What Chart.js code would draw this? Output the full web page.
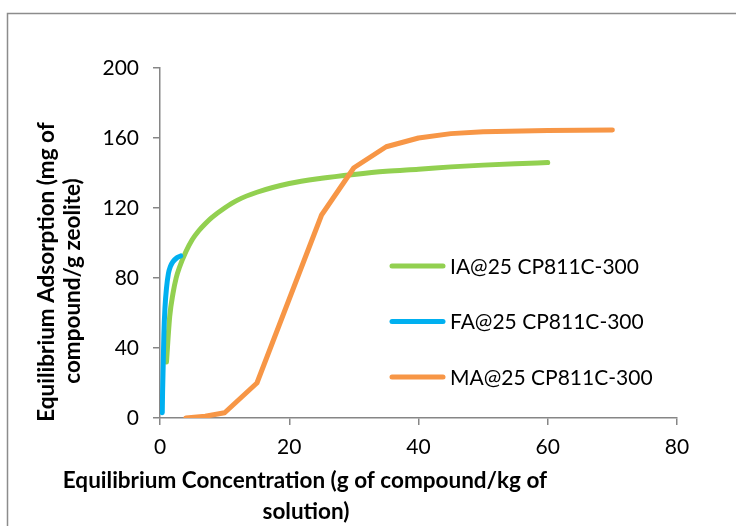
<!DOCTYPE html>
<html>
<head>
<meta charset="utf-8">
<script src="https://cdn.jsdelivr.net/npm/chart.js@4"></script>
<style>
  html, body { margin: 0; padding: 0; background: #fff; }
  #wrap { width: 736px; height: 526px; position: relative; }
</style>
</head>
<body>
<div id="wrap"><canvas id="isothermChart" width="736" height="526"></canvas></div>
<script>
// series (x = g/kg, y = mg/g)
const iaLabel = 'IA@25 CP811C-300';
const iaX = [1.0, 1.5, 2, 2.5, 3, 4, 5, 6, 7, 8, 10, 12, 15, 20, 25, 30, 35, 40, 45, 50, 55, 60];
const iaY = [32, 58, 71, 80, 86, 95, 102, 107, 111, 114.5, 120, 124.5, 129, 134, 137, 139.2, 141, 142.2, 143.5, 144.5, 145.3, 146];

const faLabel = 'FA@25 CP811C-300';
const faX = [0.35, 0.4, 0.5, 0.6, 0.77, 1.0, 1.3, 1.6, 2.0, 2.6, 3.2];
const faY = [3, 15, 31, 48, 63, 74, 82.5, 86.5, 89.3, 91.5, 92.6];

const maLabel = 'MA@25 CP811C-300';
const maX = [4, 7, 10, 15, 20, 25, 30, 35, 40, 45, 50, 60, 70];
const maY = [0, 1, 3, 20, 68, 116, 143, 155, 160, 162.5, 163.6, 164.3, 164.6];

const xTicks = [0, 20, 40, 60, 80];
const yTicks = [0, 40, 80, 120, 160, 200];

const xTitle = ['Equilibrium Concentration (g of compound/kg of', 'solution)'];
const yTitle = ['Equilibrium Adsorption (mg of', 'compound/g zeolite)'];

const toPoints = (xs, ys) => xs.map((x, i) => ({ x: x, y: ys[i] }));

Chart.defaults.font.family = 'Lato';
Chart.defaults.font.size = 21;
Chart.defaults.color = '#000';

const axisGray = '#868686';

// outer frame, titles and in-plot legend
const decorations = {
    id: 'decorations',
    beforeDraw(chart) {
        const ctx = chart.ctx;
        ctx.save();
        ctx.fillStyle = '#fff';
        ctx.fillRect(0, 0, chart.width, chart.height);
        ctx.strokeStyle = '#8c8c8c';
        ctx.lineWidth = 1.5;
        ctx.strokeRect(7.5, 13.5, 900, 700);
        ctx.restore();
    },
    afterDraw(chart) {
        const ctx = chart.ctx;
        ctx.save();
        ctx.fillStyle = '#000';
        ctx.font = 'bold 22.5px Lato';
        ctx.textAlign = 'center';
        ctx.textBaseline = 'middle';
        ctx.fillText(xTitle[0], 305, 481);
        ctx.fillText(xTitle[1], 306, 512);

        ctx.save();
        ctx.translate(47, 272);
        ctx.rotate(-Math.PI / 2);
        ctx.fillText(yTitle[0], 0, 0);
        ctx.restore();
        ctx.save();
        ctx.translate(73, 281);
        ctx.rotate(-Math.PI / 2);
        ctx.fillText(yTitle[1], 0, 0);
        ctx.restore();

        // legend
        ctx.font = '21px Lato';
        ctx.textAlign = 'left';
        ctx.lineCap = 'round';
        chart.data.datasets.forEach((ds, i) => {
            const y = 266 + i * 55.5;
            ctx.strokeStyle = ds.borderColor;
            ctx.lineWidth = 5;
            ctx.beginPath();
            ctx.moveTo(392, y);
            ctx.lineTo(443, y);
            ctx.stroke();
            ctx.fillText(ds.label, 450, y + 1);
        });
        ctx.restore();
    }
};

const ctx = document.getElementById('isothermChart').getContext('2d');
const isothermChart = new Chart(ctx, {
    type: 'line',
    data: {
        datasets: [
        {
            label: iaLabel,
            data: toPoints(iaX, iaY),
            borderColor: '#92D050',
            cubicInterpolationMode: 'monotone',
            order: 2
        },
        {
            label: faLabel,
            data: toPoints(faX, faY),
            borderColor: '#00B0F0',
            cubicInterpolationMode: 'monotone',
            order: 1
        },
        {
            label: maLabel,
            data: toPoints(maX, maY),
            borderColor: '#F79646',
            tension: 0,
            order: 0
        }
        ]
    },
    options: {
        responsive: false,
        animation: false,
        layout: {
            padding: { top: 68, right: 59, left: 0, bottom: 0 }
        },
        elements: {
            point: { radius: 0 },
            line: { borderWidth: 5, borderCapStyle: 'round', borderJoinStyle: 'round', fill: false }
        },
        scales: {
            x: {
                type: 'linear',
                min: 0,
                max: 80,
                afterBuildTicks: (scale) => { scale.ticks = xTicks.map(v => ({ value: v })); },
                afterFit: (scale) => { scale.height = 108; },
                grid: { display: true, drawOnChartArea: false, drawTicks: true, tickLength: 7, color: axisGray, lineWidth: 1.5 },
                border: { color: axisGray, width: 1.5 },
                ticks: { padding: 10, font: { size: 21 } }
            },
            y: {
                min: 0,
                max: 200,
                afterBuildTicks: (scale) => { scale.ticks = yTicks.map(v => ({ value: v })); },
                afterFit: (scale) => { scale.width = 160; },
                grid: { display: true, drawOnChartArea: false, drawTicks: true, tickLength: 7, color: axisGray, lineWidth: 1.5 },
                border: { color: axisGray, width: 1.5 },
                ticks: { padding: 14, font: { size: 21 } }
            }
        },
        plugins: {
            legend: { display: false },
            tooltip: { enabled: false }
        }
    },
    plugins: [decorations]
});
</script>
</body>
</html>
